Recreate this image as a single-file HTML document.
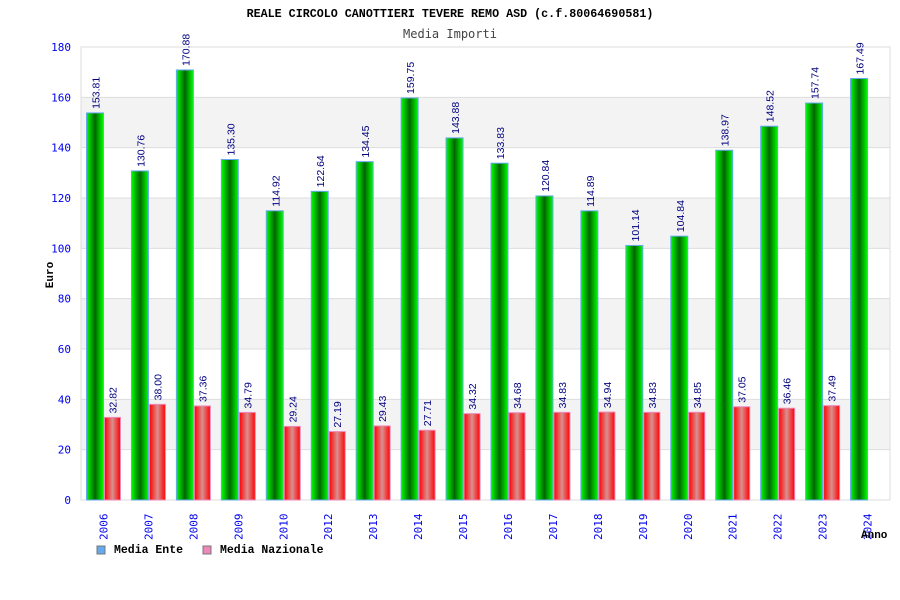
<!DOCTYPE html>
<html><head><meta charset="utf-8"><style>
body{margin:0;background:#fff;}
svg{display:block;font-family:"Liberation Sans",sans-serif;}
</style></head><body>
<svg id="c" width="900" height="600">
<defs>
<linearGradient id="gg" x1="0" x2="1"><stop offset="0" stop-color="#00ff00"/><stop offset="0.5" stop-color="#006600"/><stop offset="1" stop-color="#00ff00"/></linearGradient>
<linearGradient id="gr" x1="0" x2="1"><stop offset="0" stop-color="#ff0000"/><stop offset="0.5" stop-color="#d99090"/><stop offset="1" stop-color="#ff0000"/></linearGradient>
</defs>
<text x="450" y="17" text-anchor="middle" font-family="Liberation Mono,monospace" font-size="11.7" font-weight="bold">REALE CIRCOLO CANOTTIERI TEVERE REMO ASD (c.f.80064690581)</text>
<text x="450" y="38" text-anchor="middle" font-family="DejaVu Sans Mono,monospace" font-size="12" fill="#444">Media Importi</text>
<g id="grid"></g><g id="bars"></g><g id="labels"></g>
<text x="0" y="0" transform="translate(53,275) rotate(-90)" text-anchor="middle" font-family="Liberation Mono,monospace" font-size="11" font-weight="bold">Euro</text>
<text x="861" y="538" font-family="Liberation Mono,monospace" font-size="11" font-weight="bold">Anno</text>
<g><rect x="97" y="546" width="8" height="8" fill="#66aaee" stroke="#777"/><text x="114" y="553" font-family="Liberation Mono,monospace" font-size="11.5" font-weight="bold">Media Ente</text></g>
<g><rect x="203" y="546" width="8" height="8" fill="#ee88bb" stroke="#777"/><text x="220" y="553" font-family="Liberation Mono,monospace" font-size="11.5" font-weight="bold">Media Nazionale</text></g>
</svg>
<script>
const categories=["2006","2007","2008","2009","2010","2012","2013","2014","2015","2016","2017","2018","2019","2020","2021","2022","2023","2024"];
const ente=[153.81,130.76,170.88,135.30,114.92,122.64,134.45,159.75,143.88,133.83,120.84,114.89,101.14,104.84,138.97,148.52,157.74,167.49];
const nazionale=[32.82,38.00,37.36,34.79,29.24,27.19,29.43,27.71,34.32,34.68,34.83,34.94,34.83,34.85,37.05,36.46,37.49,null];
const yTicks=[0,20,40,60,80,100,120,140,160,180];
const NS="http://www.w3.org/2000/svg";
const L=81,R=890,T=47,B=500,YMAX=180;
const y=v=>B-(v/YMAX)*(B-T);
const gw=(R-L)/categories.length;
const x=i=>L+i*gw;
function mk(t,a,p){const e=document.createElementNS(NS,t);for(const k in a)e.setAttribute(k,a[k]);p.appendChild(e);return e;}
const grid=document.getElementById('grid'),bars=document.getElementById('bars'),labels=document.getElementById('labels');
for(let k=0;k<yTicks.length-1;k++){
  if(k%2===1){const r=mk('rect',{x:L,y:y(yTicks[k+1]),width:R-L,height:y(yTicks[k])-y(yTicks[k+1]),fill:'#f3f3f3'},grid);
  
  }
}
yTicks.forEach(v=>{
  const l=mk('line',{x1:L,x2:R,y1:y(v),y2:y(v),stroke:'#dddddd'},grid);
  
  
  const t=mk('text',{x:71,y:y(v)+4,'text-anchor':'end',fill:'#0000ee','font-size':11,'font-family':'DejaVu Sans Mono,monospace'},grid);
  t.textContent=v;
  
  
});
mk('rect',{x:L,y:T,width:R-L,height:B-T,fill:'none',stroke:'#dddddd'},grid);
categories.forEach((c,i)=>{
  const x0=x(i)+5.5;
  const g=mk('rect',{x:x0,y:y(ente[i]),width:17,height:B-y(ente[i]),fill:'url(#gg)',stroke:'#66aaee','stroke-width':1},bars);
  
  
  const tl=mk('text',{transform:`translate(${x0+13},${y(ente[i])-4}) rotate(-90)`,fill:'#000080','font-size':10.5},labels);
  tl.textContent=ente[i].toFixed(2);
  
  
  if(nazionale[i]!=null){
    const rb=mk('rect',{x:x0+18,y:y(nazionale[i]),width:16,height:B-y(nazionale[i]),fill:'url(#gr)',stroke:'#ee88bb','stroke-width':1},bars);
    
    
    const t2=mk('text',{transform:`translate(${x0+30},${y(nazionale[i])-4}) rotate(-90)`,fill:'#000080','font-size':10.5},labels);
    t2.textContent=nazionale[i].toFixed(2);
    
    
  }
  const xl=mk('text',{transform:`translate(${x0+21},${540}) rotate(-90)`,fill:'#0000ee','font-size':11,'font-family':'DejaVu Sans Mono,monospace'},labels);
  xl.textContent=c;
  
  
});
</script>
</body></html>
